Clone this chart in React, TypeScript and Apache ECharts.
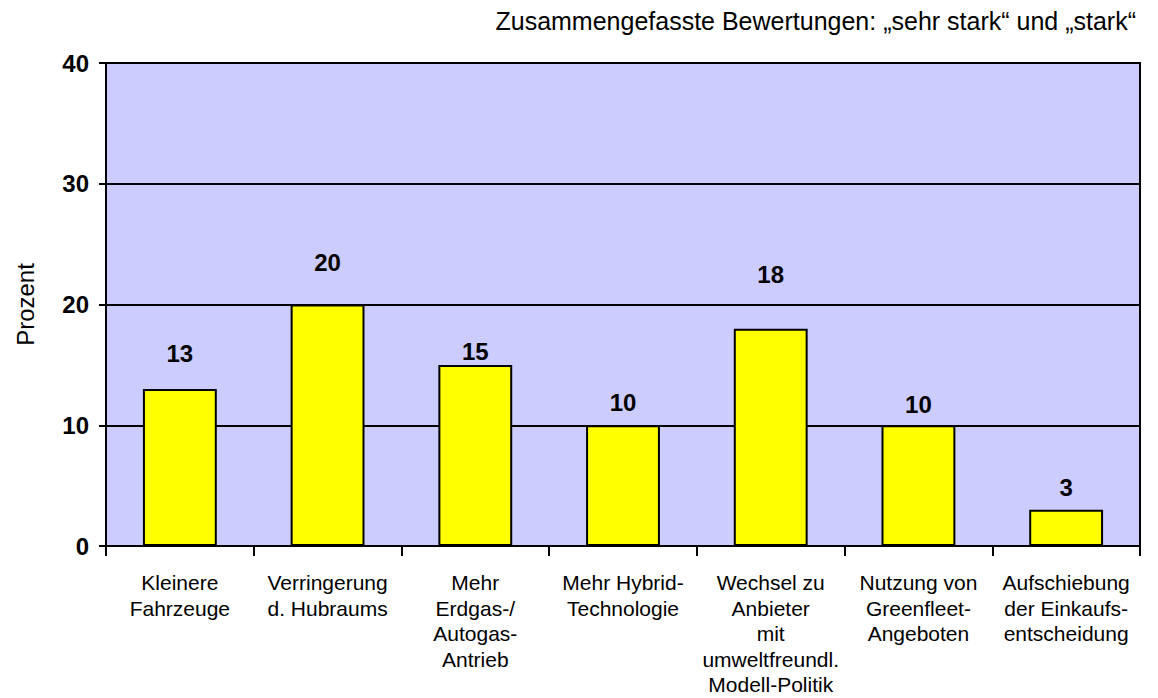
import React, { useEffect, useRef } from "react";
import * as echarts from "echarts";

const categories = [
  "Kleinere\nFahrzeuge",
  "Verringerung\nd. Hubraums",
  "Mehr\nErdgas-/\nAutogas-\nAntrieb",
  "Mehr Hybrid-\nTechnologie",
  "Wechsel zu\nAnbieter\nmit\numweltfreundl.\nModell-Politik",
  "Nutzung von\nGreenfleet-\nAngeboten",
  "Aufschiebung\nder Einkaufs-\nentscheidung",
];
const values = [13, 20, 15, 10, 18, 10, 3];
const yTicks = [0, 10, 20, 30, 40];
const titleText = "Zusammengefasste Bewertungen: \u201Esehr stark\u201C und \u201Estark\u201C";
const yAxisName = "Prozent";

// styling: label distance above each bar (px)
const labelGaps = [24, 30, 1, 11, 42, 9, 10];

const NARROW = '"Liberation Sans Narrow", "Arial Narrow", "Liberation Sans", Arial, sans-serif';
const SANS = '"Liberation Sans", Arial, sans-serif';

export default function App() {
  const ref = useRef<HTMLDivElement>(null);
  useEffect(() => {
    if (!ref.current) return;
    const chart = echarts.init(ref.current, undefined, { renderer: "svg" });
    chart.setOption({
      animation: false,
      backgroundColor: "#ffffff",
      title: {
        text: titleText,
        right: 17,
        top: 3,
        textStyle: { fontFamily: SANS, fontSize: 25, fontWeight: "normal", color: "#000" },
      },
      grid: {
        left: 106,
        right: 18,
        top: 63,
        bottom: 152,
        show: true,
        backgroundColor: "#CCCCFF",
        borderColor: "#000",
        borderWidth: 2,
      },
      xAxis: {
        type: "category",
        data: categories,
        boundaryGap: true,
        axisLine: { show: true, lineStyle: { color: "#000", width: 2 } },
        axisTick: { show: true, length: 10, lineStyle: { color: "#000", width: 2 } },
        axisLabel: {
          interval: 0,
          margin: 24,
          fontFamily: SANS,
          fontSize: 21,
          lineHeight: 25.5,
          color: "#000",
          verticalAlign: "top",
        },
      },
      yAxis: {
        type: "value",
        min: yTicks[0],
        max: yTicks[yTicks.length - 1],
        interval: 10,
        name: yAxisName,
        nameLocation: "middle",
        nameGap: 69,
        nameRotate: 90,
        nameTextStyle: { fontFamily: SANS, fontSize: 24, color: "#000" },
        axisLine: { show: true, lineStyle: { color: "#000", width: 2 } },
        axisTick: { show: true, length: 7, lineStyle: { color: "#000", width: 2 } },
        axisLabel: {
          margin: 17,
          fontFamily: NARROW,
          fontSize: 24,
          fontWeight: "bold",
          color: "#000",
        },
        splitLine: { show: true, lineStyle: { color: "#000", width: 2 } },
      },
      series: [
        {
          type: "bar",
          barWidth: "50%",
          data: values.map((v, i) => ({
            value: v,
            label: { distance: labelGaps[i] },
          })),
          itemStyle: { color: "#FFFF00", borderColor: "#000", borderWidth: 2 },
          label: {
            show: true,
            position: "top",
            fontFamily: NARROW,
            fontSize: 24,
            fontWeight: "bold",
            color: "#000",
          },
        },
      ],
    });
    return () => chart.dispose();
  }, []);
  return (
    <div
      ref={ref}
      style={{ position: "fixed", left: 0, top: 0, width: 1158, height: 698 }}
    />
  );
}
